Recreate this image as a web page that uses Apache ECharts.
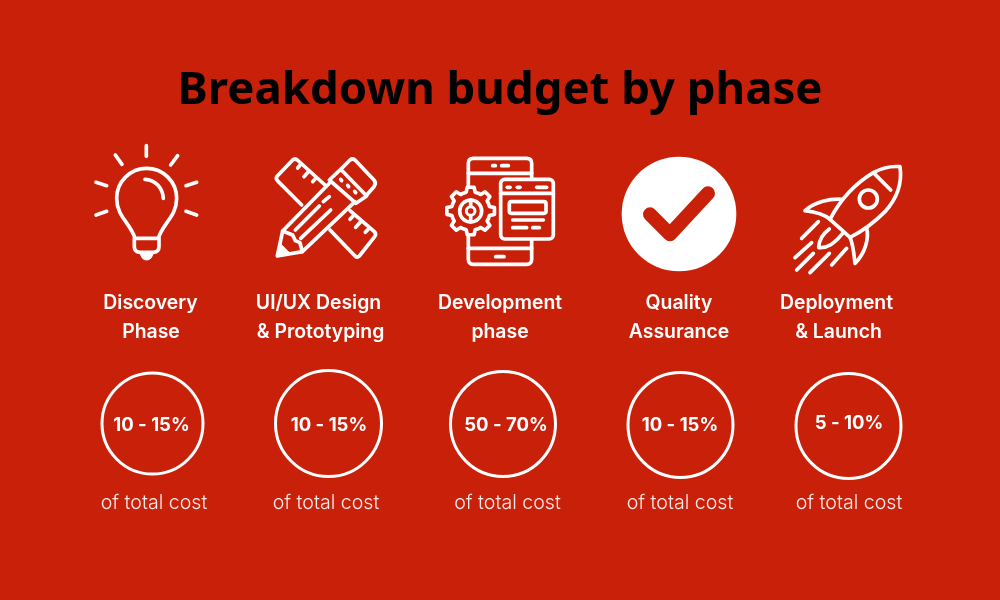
<!DOCTYPE html>
<html>
<head>
<meta charset="utf-8">
<style>
  html, body { margin: 0; padding: 0; background: #c9200a; }
  #chart { width: 1000px; height: 600px; }
</style>
<script src="https://cdn.jsdelivr.net/npm/echarts@6/dist/echarts.min.js"></script>
</head>
<body>
<div id="chart"></div>
<script>
const titleText = "Breakdown budget by phase";
const phaseLine1 = ["Discovery", "UI/UX Design", "Development", "Quality", "Deployment"];
const phaseLine2 = ["Phase", "& Prototyping", "phase", "Assurance", "& Launch"];
const costRanges = ["10 - 15%", "10 - 15%", "50 - 70%", "10 - 15%", "5 - 10%"];
const footerText = "of total cost";

// layout in px
const line1X = [150.5, 318.5, 500, 679, 836.5];
const line2X = [151, 320.5, 500, 679, 838.5];
const rangeX = [151.5, 329, 506, 680, 849];
const rangeY = [425.5, 425.5, 425.5, 425.5, 423.5];
const footerX = [154, 326, 507.5, 680, 849];
const ringX = [152.5, 328.5, 503, 680.5, 848.5];
const ringY = [423.5, 423.5, 424, 425, 426];
const ringSize = [101, 106, 105, 105, 105];

const BG = "#c9200a";
const WHITE = "#ffffff";

const stroke = { stroke: WHITE, lineWidth: 11, fill: "none", lineCap: "round", lineJoin: "round" };

// the graphic component has no svg path type, so every traced path gets registered as a shape
let shapeCount = 0;
function svgPath(d, style) {
  const name = "iconPath" + shapeCount++;
  echarts.graphic.registerShape(name, echarts.graphic.extendPath(d, {}));
  return { type: name, style: style };
}

function line(d, extra) {
  return svgPath(d, Object.assign({}, stroke, extra));
}

// icons are traced at 3x, so the group scales them back down
function icon(x, y, children) {
  return { type: "group", x: x, y: y, scaleX: 1 / 3, scaleY: 1 / 3, children: children };
}

function gearPath(cx, cy, outer, inner, teeth) {
  let d = "";
  const step = (Math.PI * 2) / teeth;
  for (let i = 0; i < teeth; i++) {
    const a = i * step - Math.PI / 2;
    const pts = [
      [inner, a - step * 0.5], [inner, a - step * 0.3],
      [outer, a - step * 0.18], [outer, a + step * 0.18],
      [inner, a + step * 0.3],
    ];
    pts.forEach((p, j) => {
      const px = (cx + p[0] * Math.cos(p[1])).toFixed(1);
      const py = (cy + p[0] * Math.sin(p[1])).toFixed(1);
      d += (i === 0 && j === 0 ? "M" : "L") + px + " " + py + " ";
    });
  }
  return d + "Z";
}

const bulb = icon(80, 135, [
  line("M165 310 C152 265 110 245 110 190 A90 90 0 0 1 290 190 C290 245 248 265 235 310 Z"),
  line("M195 133 C228 135 248 160 250 190"),
  line("M163 310 L163 335 Q163 350 180 352 L220 352 Q237 350 237 335 L237 310"),
  svgPath("M180 350 Q183 375 200 375 Q217 375 220 350 Z", { fill: WHITE, stroke: WHITE, lineWidth: 3 }),
  line("M199 32 L199 64"),
  line("M106 60 L126 88"),
  line("M293 62 L272 90"),
  line("M48 142 L80 152"),
  line("M350 142 L318 152"),
  line("M48 240 L80 229"),
  line("M350 240 L318 229"),
]);

const tools = icon(270, 150, [
  // ruler, upper and lower parts, the pencil hides the middle
  line("M95 165 L22 92 Q16 85 22 78 L68 30 Q75 24 82 30 L165 105"),
  line("M240 182 L313 245 Q320 252 314 260 L268 318 Q262 324 255 318 L180 240"),
  line("M92 43 L83 54"), line("M117 63 L102 80"), line("M138 84 L128 95"),
  line("M250 197 L240 208"), line("M272 215 L257 232"), line("M296 236 L286 247"),
  // pencil
  line("M38 243 L178 100 M97 305 L255 155"),
  line("M22 318 L38 243 L68 255 L76 272 L90 278 L97 305 Z"),
  svgPath("M22 318 L30 280 L60 310 Z", { fill: WHITE, stroke: WHITE, lineWidth: 3 }),
  line("M76 240 L148 168"), line("M92 265 L182 180"), line("M160 155 L178 140"),
  // ferrule and eraser
  line("M178 90 L212 58 L290 138 L258 160 Z"),
  line("M212 58 L240 30 Q247 24 255 30 L312 90 Q320 100 312 110 L290 135"),
  line("M212 88 L215 92"), line("M233 106 L236 110"), line("M254 124 L257 128"),
]);

const phone = icon(430, 135, [
  line("M130 70 L290 70 Q305 70 305 85 L305 373 Q305 388 290 388 L130 388 Q115 388 115 373 L115 85 Q115 70 130 70 Z"),
  line("M115 115 L305 115"), line("M115 340 L305 340"),
  line("M188 92 L196 92"), line("M215 92 L235 92"), line("M197 365 L222 365"),
  svgPath(gearPath(122, 228, 72, 58, 8), Object.assign({}, stroke, { fill: BG })),
  { type: "circle", shape: { cx: 122, cy: 228, r: 33 }, style: Object.assign({}, stroke, { fill: BG }) },
  line("M122 195 L122 214"), line("M122 242 L122 261"),
  { type: "circle", shape: { cx: 122, cy: 228, r: 13 }, style: Object.assign({}, stroke, { fill: BG, lineWidth: 9 }) },
  { type: "rect", shape: { x: 212, y: 133, width: 158, height: 179, r: 12 }, style: Object.assign({}, stroke, { fill: BG }) },
  line("M212 175 L370 175"),
  line("M232 157 L240 157"), line("M262 157 L270 157"), line("M320 157 L350 157"),
  { type: "rect", shape: { x: 238, y: 200, width: 110, height: 35, r: 6 }, style: stroke },
  line("M248 255 L340 255"), line("M248 278 L290 278"), line("M308 278 L328 278"),
]);

const check = icon(430, 135, [
  { type: "circle", shape: { cx: 747, cy: 237, r: 172 }, style: { fill: WHITE } },
  line("M660 238 L720 298 L834 175", { stroke: BG, lineWidth: 42 }),
]);

const rocket = icon(770, 150, [
  line("M180 208 C205 160 240 110 310 68 C340 52 370 48 390 50 C395 85 390 135 345 185 C310 220 275 245 240 262 Z"),
  line("M310 68 L362 120"),
  { type: "circle", shape: { cx: 295, cy: 147, r: 27 }, style: stroke },
  line("M218 148 C180 145 135 155 105 182 C130 185 160 190 180 208"),
  line("M290 235 C298 265 285 310 255 340 C252 315 250 285 240 262"),
  line("M178 237 C160 250 147 270 146 293 C170 295 195 280 218 250"),
  line("M145 215 L95 265"), line("M125 278 L75 323"), line("M130 310 L80 360"),
  line("M178 310 L120 368"), line("M230 295 L185 345"),
]);

function text(str, x, y, size, weight, color) {
  return {
    type: "text", x: x, y: y,
    style: {
      text: str, fill: color, fontSize: size, fontWeight: weight,
      fontFamily: "Inter", textAlign: "center", textVerticalAlign: "middle",
    },
  };
}

const texts = [];
phaseLine1.forEach((t, i) => texts.push(text(t, line1X[i], 303, 19.4, 600, WHITE)));
phaseLine2.forEach((t, i) => texts.push(text(t, line2X[i], 332, 19.4, 600, WHITE)));
costRanges.forEach((t, i) => texts.push(text(t, rangeX[i], rangeY[i], 18.5, 700, WHITE)));
ringX.forEach((x, i) => texts.push(text(footerText, footerX[i], 503, 19.6, 300, "#fbe9e6")));

const chart = echarts.init(document.getElementById("chart"), null, { renderer: "canvas" });
chart.setOption({
  backgroundColor: BG,
  animation: false,
  title: {
    text: titleText, left: "center", top: 63,
    textStyle: { color: "#000", fontFamily: "Noto Sans", fontWeight: 700, fontSize: 45.5 },
  },
  grid: { left: 0, right: 0, top: 0, bottom: 0 },
  xAxis: { type: "value", min: 0, max: 1000, show: false },
  yAxis: { type: "value", min: 0, max: 600, inverse: true, show: false },
  series: [{
    type: "scatter",
    silent: true,
    data: ringX.map((x, i) => ({ value: [x, ringY[i]], symbolSize: ringSize[i] })),
    itemStyle: { color: "rgba(0,0,0,0)", borderColor: WHITE, borderWidth: 3, opacity: 1 },
  }],
  graphic: [bulb, tools, phone, check, rocket].concat(texts),
});
</script>
</body>
</html>
